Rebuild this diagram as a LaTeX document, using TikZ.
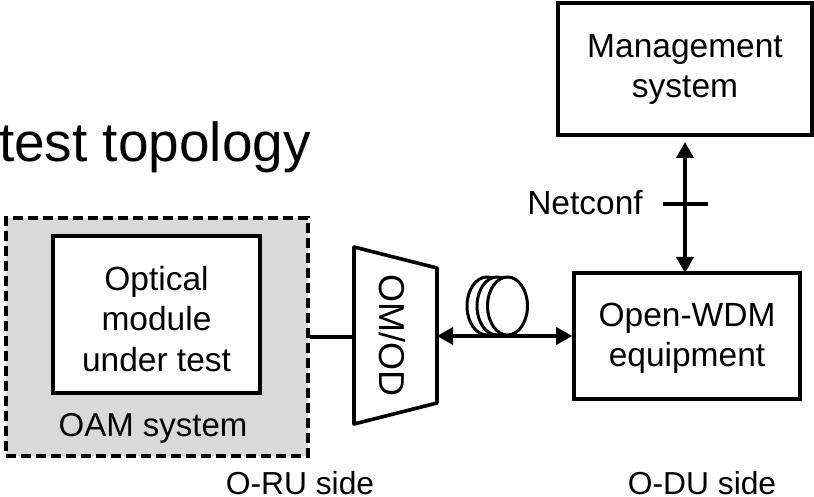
\documentclass[tikz,border=0pt]{standalone}
\usepackage{fontspec}
\setmainfont{Liberation Sans}
\usetikzlibrary{arrows.meta}
\tikzset{
  box/.style={draw,line width=3.6pt,inner sep=0pt},
  boxlab/.style={inner sep=0pt,align=center,font=\fontsize{33.5}{40.5}\selectfont},
  lab/.style={inner sep=0pt,anchor=base,font=\fontsize{33.5}{40}\selectfont},
  sidelab/.style={lab,font=\fontsize{31.8}{40}\selectfont},
  link/.style={line width=3.6pt,{Stealth[length=16pt,width=17pt,inset=0pt]}-{Stealth[length=16pt,width=17pt,inset=0pt]}},
  turn/.style={line width=3pt,fill=white}
}
\begin{document}
\begin{tikzpicture}[x=1pt,y=-1pt]
\useasboundingbox (0,0) rectangle (814,497);
\node (oam) [draw,dash pattern=on 10pt off 5pt,line width=3.6pt,fill=black!15,minimum width=302pt,minimum height=238pt,inner sep=0pt] at (157,337) {};
\node (module) [box,fill=white,minimum width=207pt,minimum height=157pt] at (156.5,314.5) {};
\node (modulelab) [boxlab] at (156.5,319) {Optical\\module\\under test};
\node (oamlab) [lab,font=\fontsize{33}{40}\selectfont] at (153,436) {OAM system};
\coordinate (omin) at (354,337);
\coordinate (omout) at (437,336);
\draw [line width=3.6pt,line join=round] (354,247) -- (437,268) -- (437,403) -- (354,424) -- cycle;
\node (omlab) [inner sep=0pt,rotate=-90,font=\fontsize{36}{40}\selectfont] at (392,335) {OM/OD};
\node (wdm) [box,minimum width=226pt,minimum height=126pt] at (687,336) {};
\node (wdmlab) [boxlab] at (687,338.5) {Open-WDM\\equipment};
\node (mgmt) [box,minimum width=254pt,minimum height=132pt] at (685,69) {};
\node (mgmtlab) [boxlab] at (685,69.5) {Management\\system};
\node (title) [lab,font=\fontsize{55}{60}\selectfont] at (155,162) {test topology};
\node (netconf) [lab] at (585,215) {Netconf};
\node (oru) [sidelab] at (300,494) {O-RU side};
\node (odu) [sidelab] at (702,494) {O-DU side};
\coordinate (tick1) at (663,204);
\coordinate (tick2) at (708,204);
\coordinate (mgout) at (685,142);
\coordinate (wdmin) at (685,273);
\foreach \x in {487,497,507.5}
  \draw [turn] (\x,306) ellipse (20pt and 29pt);
\draw [line width=3.6pt] (oam.east |- omin) -- (omin);
\draw [link] (omout) -- (omout -| wdm.west);
\draw [link] (mgout) -- (wdmin);
\draw [line width=3.6pt] (tick1) -- (tick2);
\end{tikzpicture}
\end{document}
